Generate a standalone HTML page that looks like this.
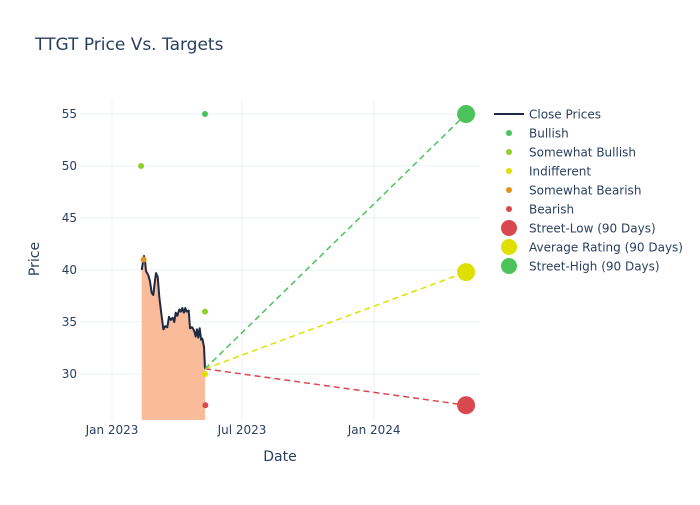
<!DOCTYPE html>
<html><head><meta charset="utf-8"><style>
body{margin:0;background:#fff;font-family:"Liberation Sans","DejaVu Sans",sans-serif}
svg text{font-family:"DejaVu Sans","Liberation Sans",sans-serif;fill:#2a3f5f}
</style></head><body>
<svg id="c" width="700" height="500" xmlns="http://www.w3.org/2000/svg">
<text x="35" y="50" font-size="17">TTGT Price Vs. Targets</text>
<g id="grid"></g>
<g id="plot"></g>
<g id="axes"></g>
<text x="280" y="461" font-size="14" text-anchor="middle">Date</text>
<text x="0" y="0" font-size="14" text-anchor="middle" transform="translate(39,259) rotate(-90)">Price</text>
<g id="legend"></g>
</svg>
<script>
// days since 2023-01-01
const priceDays=[41.4,44.6,46,47.4,50.6,52.9,55.3,57.5,59.5,61.3,63.6,65.9,69.2,71.5,74.2,77,79.4,81.8,84.5,86.8,88.7,90.9,93.7,96.1,97.9,100.3,102.1,104,106.8,108.6,111.4,114.2,116.6,118.4,120.2,122.1,124,125.8,128.1,129.5];
const prices=[40,41.35,40.9,39.9,39.5,38.9,37.8,37.6,38.75,39.7,39.35,37.4,35.5,34.3,34.6,34.5,35.5,35.2,35.4,35,35.9,35.6,36.2,36,36.35,35.9,36.35,36,36.1,34.4,34.5,34.2,33.6,34.3,33.5,34.4,33.3,33.4,32.6,30.5];
const ratingDays=[129.5,40.5,129.5,129.5,44,130];
const ratingValues=[55,50,36,30,41,27];
const ratingTypes=["Bullish","Somewhat Bullish","Somewhat Bullish","Indifferent","Somewhat Bearish","Bearish"];
const targetDay=493;
const targetValues=[27,39.8,55];
const targetNames=["Street-Low (90 Days)","Average Rating (90 Days)","Street-High (90 Days)"];
const yTicks=[30,35,40,45,50,55];
const xTickDays=[0,181,365];
const xTickLabels=["Jan 2023","Jul 2023","Jan 2024"];

const colors={"Bullish":"#4cc35a","Somewhat Bullish":"#8fd12a","Indifferent":"#e0e000","Somewhat Bearish":"#e0961e","Bearish":"#d9484f"};
const tColors=["#d9484f","#e0e000","#4cc35a"];
const L=80,R=480,T=100,B=420;
const x=d=>112+(d)*0.7182;
const y=v=>114+(55-v)*10.4;
const NS="http://www.w3.org/2000/svg";
function mk(p,tag,a){const e=document.createElementNS(NS,tag);for(const k in a)e.setAttribute(k,a[k]);p.appendChild(e);return e;}
const grid=document.getElementById('grid'),plot=document.getElementById('plot'),axes=document.getElementById('axes'),leg=document.getElementById('legend');
yTicks.forEach(v=>{
 const l=mk(grid,'line',{x1:L,x2:R,y1:y(v),y2:y(v),stroke:'#ebf0f8','stroke-width':1});
 
 
 const t=mk(axes,'text',{x:L-3,y:y(v)+4,'font-size':12,'text-anchor':'end'});t.textContent=v;
 
 
});
xTickDays.forEach((d,i)=>{
 const l=mk(grid,'line',{x1:x(d),x2:x(d),y1:T,y2:B,stroke:'#ebf0f8','stroke-width':1});
 
 
 const t=mk(axes,'text',{x:x(d),y:B+14,'font-size':12,'text-anchor':'middle'});t.textContent=xTickLabels[i];
 
 
});
// area + line
let pts=priceDays.map((d,i)=>x(d).toFixed(1)+','+y(prices[i]).toFixed(1));
const area=mk(plot,'polygon',{points:x(priceDays[0])+','+B+' '+pts.join(' ')+' '+x(priceDays[priceDays.length-1])+','+B,fill:'#f9bb9a'});


const line=mk(plot,'polyline',{points:pts.join(' '),fill:'none',stroke:'#1f2a44','stroke-width':2,'stroke-linejoin':'round'});


// target lines
const ld=priceDays[priceDays.length-1],lv=prices[prices.length-1];
targetValues.forEach((v,i)=>{
 const l=mk(plot,'line',{x1:x(ld),y1:y(lv),x2:x(targetDay),y2:y(v),stroke:tColors[i],'stroke-width':1.5,'stroke-dasharray':'6,4'});
 
 
});
ratingDays.forEach((d,i)=>{
 const c=mk(plot,'circle',{cx:x(d),cy:y(ratingValues[i]),r:3,fill:colors[ratingTypes[i]]});
 
 
});
targetValues.forEach((v,i)=>{
 const c=mk(plot,'circle',{cx:x(targetDay),cy:y(v),r:9,fill:tColors[i]});
 
 
});
// legend
const items=[["line","Close Prices"]].concat(Object.keys(colors).map(k=>["dot",k,colors[k]])).concat(targetNames.map((n,i)=>["big",n,tColors[i]]));
items.forEach((it,i)=>{
 const yy=114+i*19;
 const g=mk(leg,'g',{});
 
 
 if(it[0]=="line")mk(g,'line',{x1:494,x2:524,y1:yy,y2:yy,stroke:'#1f2a44','stroke-width':2});
 else mk(g,'circle',{cx:509,cy:yy,r:it[0]=="dot"?3:8,fill:it[2]});
 const t=mk(g,'text',{x:529,y:yy+4.5,'font-size':12});t.textContent=it[1];
});
</script>
</body></html>
